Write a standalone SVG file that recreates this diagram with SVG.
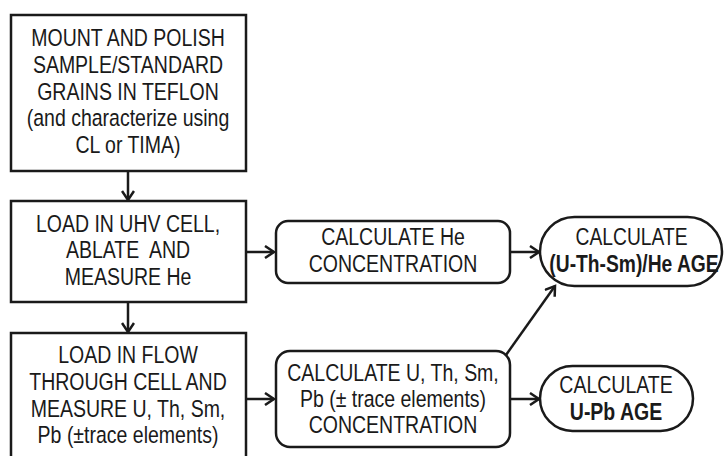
<svg xmlns="http://www.w3.org/2000/svg" width="724" height="456" viewBox="0 0 724 456">
<defs>
<marker id="ah" markerWidth="14" markerHeight="14" refX="11" refY="7" orient="auto" markerUnits="userSpaceOnUse">
<path d="M2,1 L11,7 L2,13" fill="none" stroke="#1a1a1a" stroke-width="2.5"/>
</marker>
</defs>
<style>
.box{fill:#fff;stroke:#1a1a1a;stroke-width:2.5}
.t{font-family:"Liberation Sans",Arial,sans-serif;font-size:23.5px;fill:#1a1a1a;text-anchor:middle}
.b{font-weight:bold}
.c{fill:none;stroke:#1a1a1a;stroke-width:2.5;marker-end:url(#ah)}
</style>
<rect width="724" height="456" fill="#fff"/>
<g id="connectors">
<line class="c" x1="128" y1="171" x2="128" y2="200"/>
<line class="c" x1="128" y1="302" x2="128" y2="332"/>
<line class="c" x1="246" y1="252" x2="274" y2="252"/>
<line class="c" x1="246" y1="399" x2="274" y2="399"/>
<line class="c" x1="510" y1="252" x2="539" y2="252"/>
<line class="c" x1="510" y1="399" x2="539" y2="399"/>
<line class="c" x1="506" y1="355" x2="555" y2="286"/>
</g>
<g id="mount">
<rect class="box" x="11" y="15" width="235" height="156"/>
<g transform="translate(128 0) scale(0.83 1)">
<text class="t" x="0" y="46">MOUNT AND POLISH</text>
<text class="t" x="0" y="73">SAMPLE/STANDARD</text>
<text class="t" x="0" y="100">GRAINS IN TEFLON</text>
<text class="t" x="0" y="126">(and characterize using</text>
<text class="t" x="0" y="153">CL or TIMA)</text>
</g>
</g>
<g id="uhv">
<rect class="box" x="11" y="201" width="235" height="101"/>
<g transform="translate(128 0) scale(0.83 1)">
<text class="t" x="0" y="232">LOAD IN UHV CELL,</text>
<text class="t" x="0" y="258" xml:space="preserve">ABLATE  AND</text>
<text class="t" x="0" y="285">MEASURE He</text>
</g>
</g>
<g id="flow">
<rect class="box" x="11" y="333" width="235" height="130"/>
<g transform="translate(128 0) scale(0.83 1)">
<text class="t" x="0" y="363">LOAD IN FLOW</text>
<text class="t" x="0" y="390">THROUGH CELL AND</text>
<text class="t" x="0" y="417">MEASURE U, Th, Sm,</text>
<text class="t" x="0" y="443">Pb (±trace elements)</text>
</g>
</g>
<g id="heconc">
<rect class="box" x="276" y="221" width="234" height="62" rx="12"/>
<g transform="translate(393 0) scale(0.83 1)">
<text class="t" x="0" y="245">CALCULATE He</text>
<text class="t" x="0" y="272">CONCENTRATION</text>
</g>
</g>
<g id="uconc">
<rect class="box" x="276" y="351" width="234" height="96" rx="14"/>
<g transform="translate(393 0) scale(0.83 1)">
<text class="t" x="0" y="381">CALCULATE U, Th, Sm,</text>
<text class="t" x="0" y="407">Pb (± trace elements)</text>
<text class="t" x="0" y="433">CONCENTRATION</text>
</g>
</g>
<g id="heage">
<rect class="box" x="540" y="217" width="182" height="69" rx="34.5"/>
<g transform="translate(634 0) scale(0.82 1)">
<text class="t" x="-3" y="245">CALCULATE</text>
<text class="t b" x="0" y="272">(U-Th-Sm)/He AGE</text>
</g>
</g>
<g id="upbage">
<rect class="box" x="540" y="366" width="153" height="65" rx="32.5"/>
<g transform="translate(616 0) scale(0.83 1)">
<text class="t" x="0" y="393">CALCULATE</text>
<text class="t b" x="0" y="420">U-Pb AGE</text>
</g>
</g>
</svg>
